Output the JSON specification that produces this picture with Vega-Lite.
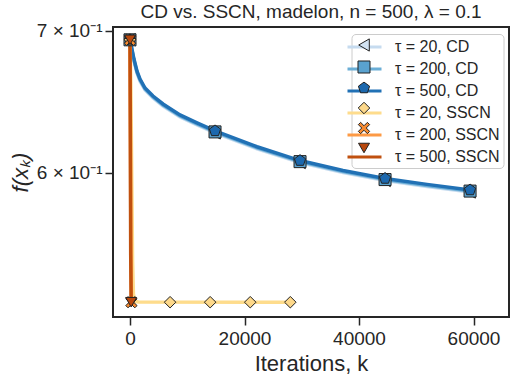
{
  "$schema": "https://vega.github.io/schema/vega-lite/v6.json",
  "autosize": "none",
  "width": 396,
  "height": 290,
  "padding": {"left": 113, "top": 27, "right": 6, "bottom": 65},
  "background": "white",
  "title": {"text": "CD vs. SSCN, madelon, n = 500, λ = 0.1", "font": "Liberation Sans", "fontSize": 19, "fontWeight": "normal", "color": "#262626", "offset": 0},
  "config": {
    "view": {"stroke": "#262626", "strokeWidth": 2},
    "axis": {"labelFont": "Liberation Sans", "titleFont": "Liberation Sans", "labelFontSize": 19, "titleFontSize": 22, "titleFontWeight": "normal", "labelColor": "#262626", "titleColor": "#262626", "tickColor": "#262626", "tickSize": 8, "tickWidth": 1.5, "domain": false, "grid": false},
    "legend": {"labelFont": "Liberation Sans", "labelFontSize": 16, "labelColor": "#262626"}
  },
  "datasets": {
    "curves": [
      {"series": "τ = 20, CD", "k": 0, "f": 0.6931}, {"series": "τ = 20, CD", "k": 349, "f": 0.6846}, {"series": "τ = 20, CD", "k": 699, "f": 0.6771}, {"series": "τ = 20, CD", "k": 1223, "f": 0.6684}, {"series": "τ = 20, CD", "k": 1747, "f": 0.6627}, {"series": "τ = 20, CD", "k": 2620, "f": 0.6564}, {"series": "τ = 20, CD", "k": 4017, "f": 0.6507}, {"series": "τ = 20, CD", "k": 5764, "f": 0.6451}, {"series": "τ = 20, CD", "k": 8734, "f": 0.6375}, {"series": "τ = 20, CD", "k": 11703, "f": 0.6320}, {"series": "τ = 20, CD", "k": 14850, "f": 0.6265}, {"series": "τ = 20, CD", "k": 22183, "f": 0.6158}, {"series": "τ = 20, CD", "k": 29700, "f": 0.6067}, {"series": "τ = 20, CD", "k": 37205, "f": 0.6002}, {"series": "τ = 20, CD", "k": 44550, "f": 0.5950}, {"series": "τ = 20, CD", "k": 51877, "f": 0.5912}, {"series": "τ = 20, CD", "k": 59400, "f": 0.5876},
      {"series": "τ = 200, CD", "k": 0, "f": 0.6931}, {"series": "τ = 200, CD", "k": 349, "f": 0.6853}, {"series": "τ = 200, CD", "k": 699, "f": 0.6779}, {"series": "τ = 200, CD", "k": 1223, "f": 0.6692}, {"series": "τ = 200, CD", "k": 1747, "f": 0.6635}, {"series": "τ = 200, CD", "k": 2620, "f": 0.6571}, {"series": "τ = 200, CD", "k": 4017, "f": 0.6514}, {"series": "τ = 200, CD", "k": 5764, "f": 0.6458}, {"series": "τ = 200, CD", "k": 8734, "f": 0.6382}, {"series": "τ = 200, CD", "k": 11703, "f": 0.6327}, {"series": "τ = 200, CD", "k": 14850, "f": 0.6272}, {"series": "τ = 200, CD", "k": 22183, "f": 0.6165}, {"series": "τ = 200, CD", "k": 29700, "f": 0.6073}, {"series": "τ = 200, CD", "k": 37205, "f": 0.6008}, {"series": "τ = 200, CD", "k": 44550, "f": 0.5956}, {"series": "τ = 200, CD", "k": 51877, "f": 0.5918}, {"series": "τ = 200, CD", "k": 59400, "f": 0.5882},
      {"series": "τ = 500, CD", "k": 0, "f": 0.6931}, {"series": "τ = 500, CD", "k": 349, "f": 0.6860}, {"series": "τ = 500, CD", "k": 699, "f": 0.6786}, {"series": "τ = 500, CD", "k": 1223, "f": 0.6699}, {"series": "τ = 500, CD", "k": 1747, "f": 0.6642}, {"series": "τ = 500, CD", "k": 2620, "f": 0.6578}, {"series": "τ = 500, CD", "k": 4017, "f": 0.6521}, {"series": "τ = 500, CD", "k": 5764, "f": 0.6465}, {"series": "τ = 500, CD", "k": 8734, "f": 0.6389}, {"series": "τ = 500, CD", "k": 11703, "f": 0.6334}, {"series": "τ = 500, CD", "k": 14850, "f": 0.6279}, {"series": "τ = 500, CD", "k": 22183, "f": 0.6172}, {"series": "τ = 500, CD", "k": 29700, "f": 0.6080}, {"series": "τ = 500, CD", "k": 37205, "f": 0.6015}, {"series": "τ = 500, CD", "k": 44550, "f": 0.5963}, {"series": "τ = 500, CD", "k": 51877, "f": 0.5925}, {"series": "τ = 500, CD", "k": 59400, "f": 0.5889},
      {"series": "τ = 20, SSCN", "k": 0, "f": 0.6931}, {"series": "τ = 20, SSCN", "k": 150, "f": 0.66}, {"series": "τ = 20, SSCN", "k": 300, "f": 0.60}, {"series": "τ = 20, SSCN", "k": 450, "f": 0.545}, {"series": "τ = 20, SSCN", "k": 600, "f": 0.526}, {"series": "τ = 20, SSCN", "k": 900, "f": 0.5218}, {"series": "τ = 20, SSCN", "k": 1500, "f": 0.5215}, {"series": "τ = 20, SSCN", "k": 28000, "f": 0.5214},
      {"series": "τ = 200, SSCN", "k": 0, "f": 0.6931}, {"series": "τ = 200, SSCN", "k": 80, "f": 0.62}, {"series": "τ = 200, SSCN", "k": 160, "f": 0.55}, {"series": "τ = 200, SSCN", "k": 250, "f": 0.5214},
      {"series": "τ = 500, SSCN", "k": 0, "f": 0.6931}, {"series": "τ = 500, SSCN", "k": 60, "f": 0.62}, {"series": "τ = 500, SSCN", "k": 120, "f": 0.55}, {"series": "τ = 500, SSCN", "k": 200, "f": 0.5214}
    ],
    "marks": [
      {"name": "τ = 20, CD", "k": 0, "f": 0.6931}, {"name": "τ = 20, CD", "k": 14850, "f": 0.6265}, {"name": "τ = 20, CD", "k": 29700, "f": 0.6067}, {"name": "τ = 20, CD", "k": 44550, "f": 0.5950}, {"name": "τ = 20, CD", "k": 59400, "f": 0.5876},
      {"name": "τ = 200, CD", "k": 0, "f": 0.6931}, {"name": "τ = 200, CD", "k": 14850, "f": 0.6272}, {"name": "τ = 200, CD", "k": 29700, "f": 0.6073}, {"name": "τ = 200, CD", "k": 44550, "f": 0.5956}, {"name": "τ = 200, CD", "k": 59400, "f": 0.5882},
      {"name": "τ = 500, CD", "k": 0, "f": 0.6931}, {"name": "τ = 500, CD", "k": 14850, "f": 0.6279}, {"name": "τ = 500, CD", "k": 29700, "f": 0.6080}, {"name": "τ = 500, CD", "k": 44550, "f": 0.5963}, {"name": "τ = 500, CD", "k": 59400, "f": 0.5889},
      {"name": "τ = 20, SSCN", "k": 0, "f": 0.6931}, {"name": "τ = 20, SSCN", "k": 7000, "f": 0.5214}, {"name": "τ = 20, SSCN", "k": 14000, "f": 0.5214}, {"name": "τ = 20, SSCN", "k": 21000, "f": 0.5214}, {"name": "τ = 20, SSCN", "k": 28000, "f": 0.5214},
      {"name": "τ = 200, SSCN", "k": 0, "f": 0.6931}, {"name": "τ = 200, SSCN", "k": 250, "f": 0.5214},
      {"name": "τ = 500, SSCN", "k": 0, "f": 0.6931}, {"name": "τ = 500, SSCN", "k": 200, "f": 0.5214}
    ]
  },
  "encoding": {
    "x": {"field": "k", "type": "quantitative", "scale": {"domain": [-2970, 66200], "nice": false, "zero": false}, "axis": {"values": [0, 20000, 40000, 60000], "format": "d", "title": "Iterations, k", "labelPadding": 4, "titlePadding": 5}},
    "y": {"field": "f", "type": "quantitative", "scale": {"type": "log", "domain": [0.5131, 0.7028], "nice": false, "zero": false}, "axis": {"values": [0.6, 0.7], "labelExpr": "round(datum.value*10) + ' × 10⁻¹'", "title": "f(xₖ)", "titleFontStyle": "italic", "labelPadding": 3, "titlePadding": 4}}
  },
  "layer": [
    {
      "data": {"name": "curves"},
      "mark": {"type": "line", "strokeWidth": 3.5, "clip": true},
      "encoding": {
        "stroke": {"field": "series", "type": "nominal", "sort": null,
          "scale": {"range": ["#c6dbef", "#6baed6", "#2171b5", "#fedc8c", "#fd9a45", "#c0500f"]},
          "legend": {"title": null, "orient": "none", "legendX": 238.5, "legendY": 7, "symbolType": "M-2,0L2,0", "symbolSize": 289, "symbolStrokeWidth": 3, "fillColor": "rgba(255,255,255,0.85)", "strokeColor": "#cccccc", "cornerRadius": 4, "padding": 3, "rowPadding": 4, "labelOffset": 20.5, "zindex": 0}}
      }
    },
    {
      "data": {"name": "marks"},
      "mark": {"type": "point", "filled": true, "opacity": 1, "stroke": "#222222", "strokeWidth": 1, "clip": true},
      "encoding": {
        "fill": {"field": "name", "type": "nominal", "sort": null,
          "scale": {"range": ["#d2e3f3", "#5aa2cf", "#1c68ae", "#fdd88a", "#f68a30", "#b8470c"]},
          "legend": {"title": null, "orient": "none", "legendX": 240, "legendY": 7, "labelExpr": "''", "symbolStrokeColor": "#222222", "symbolStrokeWidth": 1, "symbolOpacity": 1, "padding": 3, "rowPadding": 4, "labelOffset": 10, "zindex": 1}},
        "shape": {"field": "name", "type": "nominal", "sort": null,
          "scale": {"range": ["triangle-left", "square", "M0,-1L0.951,-0.309L0.588,0.809L-0.588,0.809L-0.951,-0.309Z", "diamond", "M-0.6,-1L0,-0.4L0.6,-1L1,-0.6L0.4,0L1,0.6L0.6,1L0,0.4L-0.6,1L-1,0.6L-0.4,0L-1,-0.6Z", "triangle-down"]}},
        "size": {"field": "name", "type": "nominal", "sort": null,
          "scale": {"range": [150, 121, 140, 200, 110, 150]}}
      }
    }
  ]
}
